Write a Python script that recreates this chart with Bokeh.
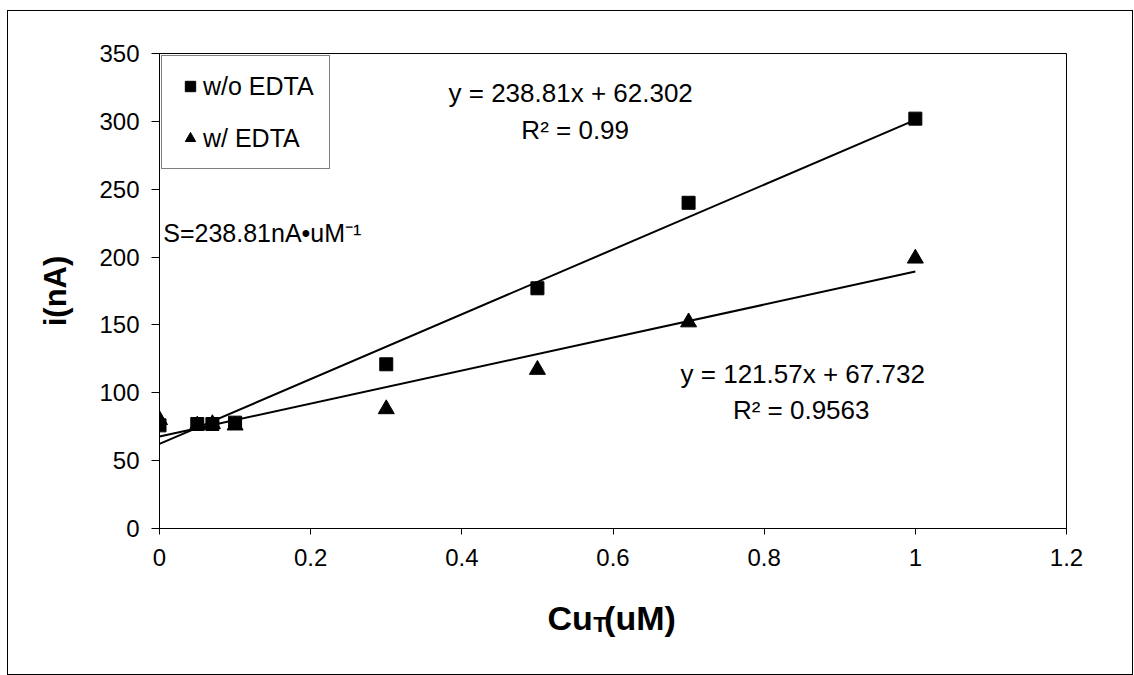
from bokeh.plotting import figure
from bokeh.layouts import column
from bokeh.models import (Range1d, FixedTicker, Legend, LegendItem, Label)
from bokeh.embed import file_html
from bokeh.resources import INLINE

# ---- data ----
cu_t = [0, 0.05, 0.07, 0.1, 0.3, 0.5, 0.7, 1.0]
i_wo_edta = [76, 77, 77, 78, 121, 177, 240, 302]
i_w_edta = [80, 76, 77, 76, 88, 117, 152, 199]
fit_slopes = [238.81, 121.57]
fit_intercepts = [62.302, 67.732]
fit_x = [0, 1.0]
x_ticks = [0, 0.2, 0.4, 0.6, 0.8, 1.0, 1.2]
y_ticks = [0, 50, 100, 150, 200, 250, 300, 350]

FONT = "Liberation Sans"
W = 1124

p = figure(width=W, height=575, output_backend="svg", toolbar_location=None,
           x_range=Range1d(0, 1.2), y_range=Range1d(0, 350),
           min_border_left=151, min_border_right=66, min_border_top=42,
           min_border_bottom=58)
p.grid.visible = False
p.outline_line_color = "black"
p.outline_line_width = 1
p.background_fill_color = "white"
p.border_fill_color = "white"

for ax in (p.xaxis[0], p.yaxis[0]):
    ax.axis_line_color = "black"
    ax.major_tick_line_color = "black"
    ax.minor_tick_line_color = None
    ax.major_tick_in = 0
    ax.major_label_text_font = FONT
    ax.major_label_text_font_size = "24px"
    ax.major_label_text_color = "black"
    ax.axis_label_text_font = FONT
    ax.axis_label_text_font_style = "bold"
    ax.axis_label_text_font_size = "31px"
    ax.axis_label_text_color = "black"

p.xaxis.ticker = FixedTicker(ticks=x_ticks)
p.yaxis.ticker = FixedTicker(ticks=y_ticks)
p.xaxis.major_label_overrides = {t: f"{t:g}" for t in x_ticks}
p.xaxis.major_tick_out = 6
p.yaxis.major_tick_out = 8
p.xaxis.major_label_standoff = 14
p.yaxis.major_label_standoff = 12
p.yaxis.axis_label = "i(nA)"
p.yaxis.axis_label_standoff = 23
p.xaxis.axis_label = None

# trend lines from stated fits
for m, b in zip(fit_slopes, fit_intercepts):
    p.line(fit_x, [m * x + b for x in fit_x], line_color="black", line_width=2)

r_tri = p.scatter(cu_t, i_w_edta, marker="triangle", size=16, color="black")
r_sq = p.scatter(cu_t, i_wo_edta, marker="square", size=13, color="black")

legend = Legend(items=[LegendItem(label="w/o EDTA", renderers=[r_sq]),
                       LegendItem(label="w/ EDTA", renderers=[r_tri])],
                location="top_left", margin=2, padding=15, spacing=22,
                glyph_width=26, glyph_height=30, label_height=30,
                label_standoff=0,
                border_line_color="black", border_line_width=1,
                background_fill_color="white", background_fill_alpha=1,
                label_text_font=FONT, label_text_font_size="25px",
                label_text_color="black")
p.add_layout(legend)

def lab(fig, text, x, y, align="center", size="26px", style="normal",
        baseline="middle"):
    fig.add_layout(Label(x=x, y=y, text=text, text_align=align,
                         text_baseline=baseline, text_font=FONT,
                         text_font_size=size, text_font_style=style,
                         text_color="black"))

# equations
lab(p, "y = 238.81x + 62.302", 0.544, 321)
lab(p, "R\u00b2 = 0.99", 0.55, 294)
lab(p, "y = 121.57x + 67.732", 0.851, 114)
lab(p, "R\u00b2 = 0.9563", 0.849, 87)
lab(p, "S=238.81nA\u2022uM\u207b\u00b9", 0.005, 218, align="left", size="25px")

# x-axis title strip (pixel coordinates within the strip)
q = figure(width=W, height=88, output_backend="svg", toolbar_location=None,
           x_range=Range1d(0, W), y_range=Range1d(0, 88),
           x_axis_location=None, y_axis_location=None,
           min_border=0, outline_line_color=None)
q.grid.visible = False
q.background_fill_color = "white"
q.border_fill_color = "white"
lab(q, "Cu", 537, 57, align="right", size="34px", style="bold")
lab(q, "T", 537.5, 50, align="left", size="22px", style="bold")
lab(q, "(uM)", 551, 57, align="left", size="34px", style="bold")

layout = column(p, q, spacing=0)
layout.styles = {"border": "1px solid black", "margin-left": "7px",
                 "margin-top": "10px", "background-color": "white"}

open("out.html", "w").write(file_html(layout, INLINE))
